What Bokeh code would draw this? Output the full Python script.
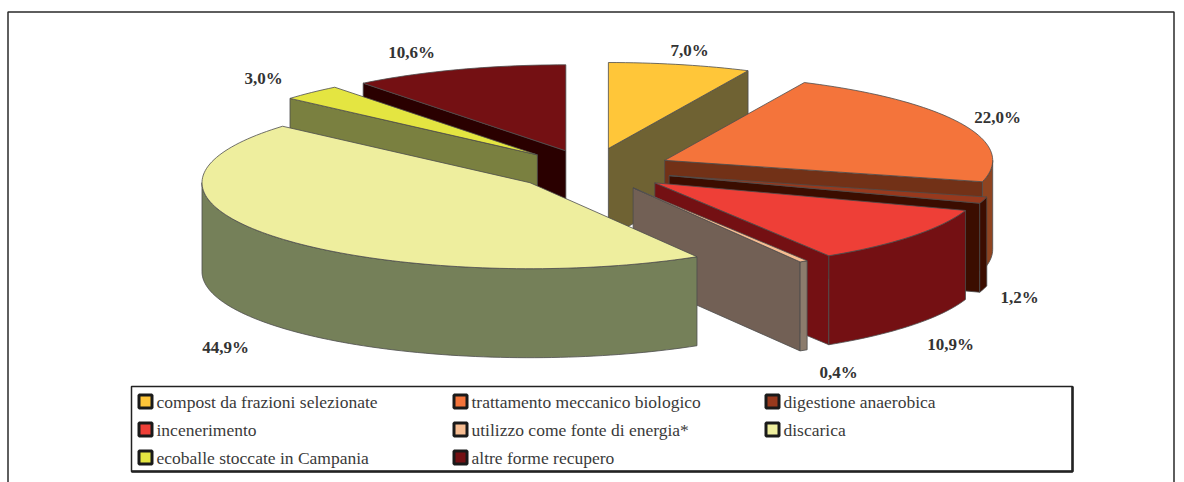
from math import sin, cos, radians
from bokeh.plotting import figure
from bokeh.models import Range1d
from bokeh.core.properties import value
from bokeh.embed import file_html
from bokeh.resources import INLINE

categories = ["compost da frazioni selezionate", "trattamento meccanico biologico", "digestione anaerobica",
              "incenerimento", "utilizzo come fonte di energia*", "discarica",
              "ecoballe stoccate in Campania", "altre forme recupero"]
shares = [7.0, 22.0, 1.2, 10.9, 0.4, 44.9, 3.0, 10.6]
share_labels = ["7,0%", "22,0%", "1,2%", "10,9%", "0,4%", "44,9%", "3,0%", "10,6%"]

top_colors = ["#ffc639", "#f4743b", "#98391d", "#ee3f37", "#f7bd92", "#eeee9e", "#e4e541", "#741013"]
face_colors = ["#6f6233", "#723117", "#3b0d00", "#741013", "#726055", "#758059", "#7a8040", "#2a0000"]
rim_colors = ["#6f6233", "#8f4420", "#3b0d00", "#741013", "#8c7c6c", "#758059", "#7a8040", "#2a0000"]

# layout of the pseudo-3D pie, in page pixels
CX, CY, RX, RY, DEPTH = 590, 169, 328, 86, 89
EXPLODE = [0.25, 0.25, 0.25, 0.25, 0.25, 0.24, 0.235, 0.23]
PAINT_ORDER = [0, 7, 6, 1, 2, 3, 4, 5]
LABEL_XY = [(689, 50), (997, 117), (1019, 297), (950, 344), (838, 372), (225, 347), (263, 78), (411, 52)]

p = figure(width=1184, height=482, output_backend="svg", toolbar_location=None,
           x_range=Range1d(0, 1184), y_range=Range1d(482, 0), min_border=0,
           x_axis_location=None, y_axis_location=None, outline_line_color=None)
p.xgrid.visible = False
p.ygrid.visible = False
p.background_fill_color = "white"
p.border_fill_color = "white"

# angle extents of each slice, clockwise from 12 o'clock
extents, a = [], 0.0
total = sum(shares)
for s in shares:
    b = a + s / total * 360
    extents.append((a, b))
    a = b

def pt(ox, oy, ang, dz=0):
    t = radians(ang)
    return ox + RX * sin(t), oy - RY * cos(t) + dz

def arc(ox, oy, a0, a1, dz=0):
    n = max(2, int((a1 - a0) / 1.5) + 2)
    return [pt(ox, oy, a0 + (a1 - a0) * i / (n - 1), dz) for i in range(n)]

def poly(points, color, lw=0.8, line="#4d4d4d"):
    p.patch([q[0] for q in points], [q[1] for q in points], fill_color=color,
            line_color=line, line_width=lw)

def face(ox, oy, ang, color):
    e = pt(ox, oy, ang)
    poly([(ox, oy), e, (e[0], e[1] + DEPTH), (ox, oy + DEPTH)], color)

for i in PAINT_ORDER:
    a0, a1 = extents[i]
    mid = radians((a0 + a1) / 2)
    ox = CX + EXPLODE[i] * RX * sin(mid)
    oy = CY - EXPLODE[i] * RY * cos(mid)
    # cut faces turned towards the viewer
    if 90 < (a0 - 90) % 360 < 270:
        face(ox, oy, a0, face_colors[i])
    if 90 < (a1 + 90) % 360 < 270:
        face(ox, oy, a1, face_colors[i])
    # front part of the outer wall
    r0, r1 = max(a0, 90), min(a1, 270)
    if r1 > r0:
        upper = arc(ox, oy, r0, r1)
        lower = arc(ox, oy, r0, r1, DEPTH)
        poly(upper + lower[::-1], rim_colors[i])
    # top
    poly([(ox, oy)] + arc(ox, oy, a0, a1), top_colors[i])

# percentage labels
p.text([q[0] for q in LABEL_XY], [q[1] for q in LABEL_XY], text=share_labels,
       text_font=value("Liberation Serif"), text_font_style="bold", text_font_size="17px",
       text_color="#333333", text_align="center", text_baseline="middle")

# outer frame (open at the bottom)
p.line([7.5, 7.5, 1173.5, 1173.5], [482, 11.5, 11.5, 482], line_color="#2a2a2a", line_width=1.5)
# legend
LEG_L, LEG_T, LEG_R, LEG_B = 131, 386, 1072, 471
p.quad(left=[LEG_L], right=[LEG_R], top=[LEG_T], bottom=[LEG_B], fill_color="white",
       line_color="#222222", line_width=1.5)
p.line([LEG_R, LEG_R, LEG_L], [LEG_T, LEG_B, LEG_B], line_color="#222222", line_width=2.5)
COL_X = [137, 452, 764]
ROW_Y = [402, 430, 458]
SW = 16
sx, sy, tx, ty, cols = [], [], [], [], []
for i, c in enumerate(categories):
    x0 = COL_X[i % 3]
    y0 = ROW_Y[i // 3]
    sx.append(x0 + SW / 2)
    sy.append(y0 - 1)
    tx.append(x0 + 19)
    ty.append(y0 - 1)
    cols.append(top_colors[i])
p.rect(sx, sy, width=SW - 3, height=SW - 3, fill_color=cols, line_color="#1a1a1a", line_width=3)
p.text(tx, ty, text=categories, text_font=value("Liberation Serif"), text_font_size="17.5px",
       text_color="#3a3a3a", text_align="left", text_baseline="middle")

open("out.html", "w").write(file_html(p, INLINE))
